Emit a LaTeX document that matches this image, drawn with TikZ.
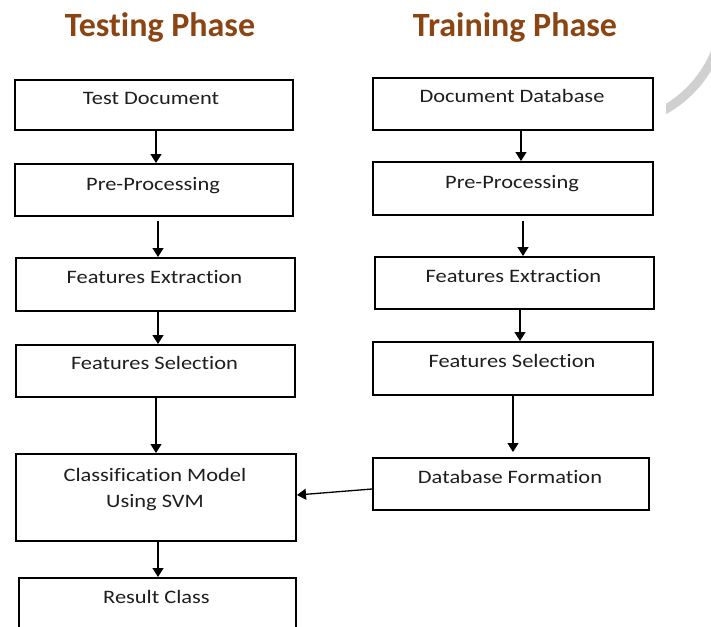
\documentclass[tikz,border=0pt]{standalone}
\usepackage{fontspec}
\newfontfamily\boxfont[FakeStretch=1.18, Ligatures=CommonOff]{Carlito}
\newfontfamily\headfont[Ligatures=CommonOff]{Carlito}
\usetikzlibrary{arrows.meta}
\definecolor{phasebrown}{RGB}{139,69,19}
\definecolor{boxtext}{RGB}{30,30,30}
\definecolor{swoosh}{RGB}{208,208,208}

\begin{document}
\begin{tikzpicture}[x=1pt,y=-1pt,
  box/.style={draw=black, line width=2pt, rectangle, anchor=north west, inner sep=0pt},
  lbl/.style={font={\boxfont\fontsize{19}{26}\selectfont}, text=boxtext, inner sep=0pt, align=center},
  head/.style={font={\headfont\bfseries\fontsize{34}{40}\selectfont}, text=phasebrown, inner sep=0pt, anchor=base},
  flow/.style={line width=1.3pt, -{Triangle[length=9pt,width=11pt]}}]

\useasboundingbox (0,0) rectangle (711,626);
\fill[white] (0,0) rectangle (711,626);

% decorative grey swoosh at the right edge
\begin{scope}
  \clip (666,0) rectangle (711,140);
  \draw[swoosh, line width=9pt] (607,8) circle (117);
\end{scope}

% phase headings
\node[head] (testhead) at (160,37) {Testing Phase};
\node[head] (trainhead) at (515,37) {Training Phase};

% testing column
\node[box, minimum width=278pt, minimum height=50pt] (td)  at (14,79)  {};
\node[box, minimum width=278pt, minimum height=52pt] (pp1) at (14,163) {};
\node[box, minimum width=279pt, minimum height=53pt] (fe1) at (15,257) {};
\node[box, minimum width=279pt, minimum height=52pt] (fs1) at (15,344) {};
\node[box, minimum width=280pt, minimum height=87pt] (cm)  at (15,453) {};
\node[box, minimum width=277pt, minimum height=83pt] (rc)  at (18,577) {};

% training column
\node[box, minimum width=280pt, minimum height=52pt] (dd)  at (372,77)  {};
\node[box, minimum width=280pt, minimum height=53pt] (pp2) at (372,161) {};
\node[box, minimum width=279pt, minimum height=52pt] (fe2) at (374,256) {};
\node[box, minimum width=280pt, minimum height=53pt] (fs2) at (372,341) {};
\node[box, minimum width=276pt, minimum height=52pt] (df)  at (372,457) {};

% box captions
\node[lbl, anchor=base] (tdt)  at (151,104) {Test Document};
\node[lbl, anchor=base] (pp1t) at (153,190) {Pre-Processing};
\node[lbl, anchor=base] (fe1t) at (154.5,283) {Features Extraction};
\node[lbl, anchor=base] (fs1t) at (154.5,369) {Features Selection};
\node[lbl] (cmt) at (155,490) {Classification Model\\Using SVM};
\node[lbl, anchor=base] (rct)  at (156.5,603) {Result Class};

\node[lbl, anchor=base] (ddt)  at (512,102) {Document Database};
\node[lbl, anchor=base] (pp2t) at (512,188) {Pre-Processing};
\node[lbl, anchor=base] (fe2t) at (513.5,282) {Features Extraction};
\node[lbl, anchor=base] (fs2t) at (512,367) {Features Selection};
\node[lbl, anchor=base] (dft)  at (510,483) {Database Formation};

% testing flow
\draw[flow] ([xshift=2pt]td.south) -- ([xshift=2pt]pp1.north);
\draw[flow, shorten <=4pt] ([xshift=4pt]pp1.south) -- ([xshift=2.5pt]fe1.north);
\draw[flow] ([xshift=2.5pt]fe1.south) -- ([xshift=2.5pt]fs1.north);
\draw[flow] ([xshift=0.5pt]fs1.south) -- (cm.north);
\draw[flow] ([xshift=2pt]cm.south) -- ([xshift=0.5pt]rc.north);

% training flow
\draw[flow] ([xshift=8pt]dd.south) -- ([xshift=8pt]pp2.north);
\draw[flow, shorten <=5pt] ([xshift=10pt]pp2.south) -- ([xshift=8.5pt]fe2.north);
\draw[flow] ([xshift=5.5pt]fe2.south) -- ([xshift=7pt]fs2.north);
\draw[flow, shorten >=5pt] (fs2.south) -- ([xshift=2pt]df.north);

% trained database feeds the classifier
\draw[flow] ([yshift=-5pt]df.west) -- ([yshift=2.5pt]cm.east);
\end{tikzpicture}
\end{document}
